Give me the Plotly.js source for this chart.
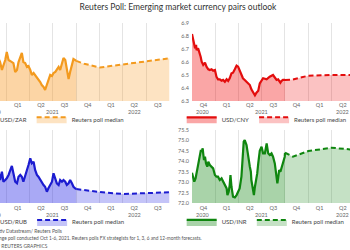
<!DOCTYPE html>
<html><head><meta charset="utf-8">
<script src="https://cdn.plot.ly/plotly-3.0.1.min.js"></script>
<style>
html,body{margin:0;padding:0;overflow:hidden;background:#fff;width:350px;height:250px;position:relative}
#chart{position:absolute;left:-40px;top:0;width:430px;height:250px}
</style>
</head><body><div id="chart"></div><script>
// ---------- data ----------
const leftDates = ['2020-10-01','2020-10-15','2020-11-01','2020-11-15','2020-12-01','2020-12-07','2020-12-14','2020-12-20','2020-12-27','2021-01-02','2021-01-09','2021-01-15','2021-01-22','2021-01-28','2021-02-04','2021-02-11','2021-02-17','2021-02-24','2021-03-02','2021-03-08','2021-03-15','2021-03-22','2021-03-28','2021-04-04','2021-04-10','2021-04-17','2021-04-23','2021-04-30','2021-05-06','2021-05-13','2021-05-19','2021-05-26','2021-06-01','2021-06-08','2021-06-14','2021-06-21','2021-06-28','2021-07-04','2021-07-11','2021-07-17','2021-07-24','2021-07-30','2021-08-06','2021-08-12','2021-08-19','2021-08-25','2021-09-01','2021-09-07','2021-09-14','2021-09-20','2021-09-27','2021-10-01'];
const zarValues = [16.4,16.3,16.1,15.4,15.2,15.00,14.55,14.83,15.11,15.56,15.11,15.06,15.00,14.94,14.44,14.55,15.00,15.23,15.51,15.00,14.94,14.72,14.77,14.55,14.27,14.38,14.27,14.10,13.98,13.87,13.70,13.59,13.42,13.70,13.98,14.27,14.21,14.38,14.44,14.55,14.72,14.55,14.94,15.23,15.11,14.55,14.04,14.44,14.94,15.17,15.11,15.06];
const rubValues = [77.5,77.8,79.8,77.0,75.5,74.10,75.57,73.79,74.10,74.40,74.99,75.88,76.59,75.29,73.79,73.51,74.68,74.99,74.68,73.79,74.68,75.88,76.77,77.96,77.07,77.35,75.88,74.99,74.68,74.10,73.79,73.21,72.90,72.01,72.62,73.21,73.79,75.29,74.40,73.51,73.21,74.10,73.79,74.10,73.79,73.21,73.51,74.10,73.51,72.90,72.62,72.49];

const cnyDates = ['2020-10-01','2020-10-06','2020-10-09','2020-10-13','2020-10-17','2020-10-19','2020-10-25','2020-11-01','2020-11-04','2020-11-08','2020-11-14','2020-11-21','2020-11-27','2020-12-04','2020-12-10','2020-12-17','2020-12-23','2020-12-30','2021-01-05','2021-01-11','2021-01-18','2021-01-25','2021-01-31','2021-02-07','2021-02-14','2021-02-20','2021-02-26','2021-03-05','2021-03-11','2021-03-18','2021-03-25','2021-03-31','2021-04-06','2021-04-13','2021-04-19','2021-04-26','2021-05-03','2021-05-09','2021-05-16','2021-05-22','2021-05-29','2021-06-05','2021-06-11','2021-06-18','2021-06-24','2021-07-01','2021-07-07','2021-07-21','2021-08-02','2021-08-15','2021-08-22','2021-08-29','2021-09-04','2021-09-13','2021-09-17','2021-09-23','2021-10-01'];
const cnyValues = [6.815,6.769,6.718,6.705,6.731,6.692,6.705,6.667,6.641,6.602,6.577,6.595,6.564,6.544,6.538,6.544,6.533,6.538,6.487,6.467,6.467,6.456,6.462,6.448,6.467,6.454,6.475,6.513,6.518,6.544,6.572,6.564,6.538,6.500,6.475,6.462,6.448,6.431,6.423,6.390,6.364,6.344,6.364,6.379,6.436,6.462,6.475,6.467,6.487,6.500,6.482,6.462,6.467,6.441,6.454,6.462,6.462];

const inrDates = ['2020-10-01','2020-10-06','2020-10-10','2020-10-15','2020-10-19','2020-10-25','2020-11-01','2020-11-05','2020-11-08','2020-11-12','2020-11-14','2020-11-17','2020-11-21','2020-11-25','2020-11-30','2020-12-04','2020-12-10','2020-12-17','2020-12-23','2020-12-30','2021-01-05','2021-01-11','2021-01-18','2021-01-25','2021-01-31','2021-02-07','2021-02-14','2021-02-17','2021-02-22','2021-02-26','2021-03-01','2021-03-05','2021-03-09','2021-03-11','2021-03-18','2021-03-25','2021-03-31','2021-04-06','2021-04-13','2021-04-17','2021-04-22','2021-04-26','2021-04-30','2021-05-03','2021-05-07','2021-05-09','2021-05-13','2021-05-16','2021-05-20','2021-05-22','2021-05-26','2021-05-29','2021-06-01','2021-06-05','2021-06-09','2021-06-14','2021-06-18','2021-06-24','2021-07-01','2021-07-07','2021-07-14','2021-07-21','2021-07-27','2021-08-02','2021-08-09','2021-08-15','2021-08-22','2021-08-26','2021-08-29','2021-09-01','2021-09-04','2021-09-08','2021-09-13','2021-09-17','2021-09-23','2021-09-30','2021-10-01'];
const inrValues = [73.45,73.26,73.02,73.18,73.42,73.74,74.22,74.54,74.46,74.62,74.38,74.06,74.22,73.90,73.74,73.98,73.82,73.74,73.66,73.34,73.26,73.26,73.10,73.18,73.02,72.86,72.70,72.38,72.54,72.86,73.34,72.78,72.38,72.30,72.27,72.38,72.54,72.70,73.26,74.06,74.94,75.02,74.86,74.78,74.46,74.22,73.98,73.74,73.50,73.10,72.78,72.54,72.38,72.78,73.02,73.42,73.90,74.50,74.70,74.38,74.38,74.86,74.38,74.30,74.38,74.22,73.90,73.58,73.26,72.94,73.18,73.58,73.50,73.66,73.90,74.22,74.41];

const forecastDates = ['2021-10-01','2021-11-01','2022-01-01','2022-04-01','2022-10-01'];
const zarForecast = [15.06,14.90,14.69,14.86,15.21];
const cnyForecast = [6.462,6.465,6.495,6.500,6.500];
const rubForecast = [72.49,72.32,71.96,71.60,71.91];
const inrForecast = [74.41,74.22,74.49,74.65,74.45];

const quarterMids = ['2020-11-15','2021-02-14','2021-05-16','2021-08-16','2021-11-15','2022-02-14','2022-05-16','2022-08-16'];
const quarterLabels = ['Q4','Q1','Q2','Q3','Q4','Q1','Q2','Q3'];
const quarterStarts = ['2021-01-01','2021-04-01','2021-07-01','2021-10-01','2022-01-01','2022-04-01','2022-07-01'];
const yearPos = ['2020-11-15','2021-07-01','2022-05-16'];
const yearLabels = ['2020','2021','2022'];

const pairNames = ['USD/ZAR','USD/CNY','USD/RUB','USD/INR'];
const pollName = 'Reuters poll median';
const titleText = 'Reuters Poll: Emerging market currency pairs outlook';
const sourceText = 'Source: Refinitiv Datastream/ Reuters Polls';
const noteText = 'Note: Exchange poll conducted Oct 1-6, 2021. Reuters polls FX strategists for 1, 3, 6 and 12-month forecasts.';
const creditText = '© REUTERS GRAPHICS';

// ---------- styles ----------
const FONT = 'Lato, "Noto Sans", sans-serif';
const panels = [
  {dates: leftDates, vals: zarValues, fc: zarForecast, line:'#f39a1e', fill:'rgba(247,150,30,0.40)', ffill:'rgba(247,150,30,0.27)'},
  {dates: cnyDates, vals: cnyValues, fc: cnyForecast, line:'#e30d0d', fill:'rgba(240,0,0,0.35)', ffill:'rgba(240,0,0,0.24)'},
  {dates: leftDates, vals: rubValues, fc: rubForecast, line:'#1c1cd0', fill:'rgba(50,50,230,0.42)', ffill:'rgba(50,50,230,0.29)'},
  {dates: inrDates, vals: inrValues, fc: inrForecast, line:'#0f860f', fill:'rgba(30,140,30,0.38)', ffill:'rgba(30,140,30,0.26)'}
];

const traces = [];
panels.forEach((p, i) => {
  const n = i === 0 ? '' : String(i + 1);
  const leg = i === 0 ? 'legend' : 'legend' + (i + 1);
  traces.push({x: p.dates, y: p.vals, xaxis: 'x' + n, yaxis: 'y' + n, type: 'scatter', mode: 'lines',
    name: pairNames[i], legend: leg, fill: 'tozeroy', fillcolor: p.fill,
    line: {color: p.line, width: 2.2}});
  traces.push({x: forecastDates, y: p.fc, xaxis: 'x' + n, yaxis: 'y' + n, type: 'scatter', mode: 'lines',
    name: pollName, legend: leg, fill: 'tozeroy', fillcolor: p.ffill,
    line: {color: p.line, width: 2, dash: '5px,3px'}});
});

const tickFont = {family: FONT, size: 5.5, color: '#666'};
function xax(domain, anchor) {
  return {domain: domain, anchor: anchor, type: 'date', range: ['2020-10-01', '2022-10-01'],
    tickmode: 'array', tickvals: quarterMids, ticktext: quarterLabels, tickfont: tickFont,
    ticks: '', showgrid: false, zeroline: false, showline: false, fixedrange: true, automargin: false,
    minor: {tickmode: 'array', tickvals: quarterStarts, showgrid: true, gridcolor: '#e4e4e4', gridwidth: 1, ticks: ''}};
}
function yax(domain, anchor, range, dtick) {
  return {domain: domain, anchor: anchor, range: range, dtick: dtick, tickformat: '.1f',
    tickfont: tickFont, ticks: '', showgrid: false, zeroline: false, showline: false, fixedrange: true,
    automargin: false, ticklabelstandoff: 2};
}
const LD = [0, 0.4722], RD = [0.5291, 1], TD = [0.5667, 1], BD = [0, 0.4056];

const annotations = [];
['x', 'x2', 'x3', 'x4'].forEach((xr, i) => {
  const yy = i < 2 ? 0.508 : -0.066;
  yearPos.forEach((d, k) => annotations.push({x: d, y: yy, xref: xr, yref: 'paper', text: yearLabels[k],
    showarrow: false, font: {family: FONT, size: 5.5, color: '#666'}, xanchor: 'center', yanchor: 'middle'}));
});
[[sourceText, -0.156, -0.038, 4.9], [noteText, -0.195, -0.028, 4.75], [creditText, -0.24, 0.029, 4.9]].forEach(t => {
  annotations.push({x: t[2], y: t[1], xref: 'paper', yref: 'paper', text: t[0], showarrow: false,
    xanchor: 'left', yanchor: 'middle', font: {family: FONT, size: t[3], color: '#555'}});
});

function legendAt(x, y) {
  return {orientation: 'h', x: x, y: y, xanchor: 'left', yanchor: 'middle', bgcolor: 'rgba(0,0,0,0)',
    font: {family: FONT, size: 6, color: '#444'}, itemwidth: 30, traceorder: 'normal', tracegroupgap: 0};
}

const layout = {
  width: 430, height: 250,
  margin: {l: 23, r: 12, t: 23, b: 47, pad: 0, autoexpand: false},
  paper_bgcolor: '#fff', plot_bgcolor: '#fff',
  font: {family: FONT, color: '#444'},
  title: {text: titleText, x: 0.507, xref: 'container', xanchor: 'center', y: 0.972, yref: 'container', yanchor: 'middle',
    font: {family: FONT, size: 8.5, color: '#333'}, automargin: false},
  showlegend: true,
  xaxis: xax(LD, 'y'), yaxis: yax(TD, 'x', [12.8, 17.2], 1),
  xaxis2: xax(RD, 'y2'), yaxis2: yax(TD, 'x2', [6.3, 6.9], 0.1),
  xaxis3: xax(LD, 'y3'), yaxis3: yax(BD, 'x3', [70, 83], 2),
  xaxis4: xax(RD, 'y4'), yaxis4: yax(BD, 'x4', [72, 75.5], 0.5),
  legend: legendAt(-0.058, 0.465),
  legend2: legendAt(0.503, 0.465),
  legend3: legendAt(-0.058, -0.105),
  legend4: legendAt(0.503, -0.105),
  annotations: annotations
};

Plotly.newPlot('chart', traces, layout, {staticPlot: true, displayModeBar: false});
</script></body></html>
